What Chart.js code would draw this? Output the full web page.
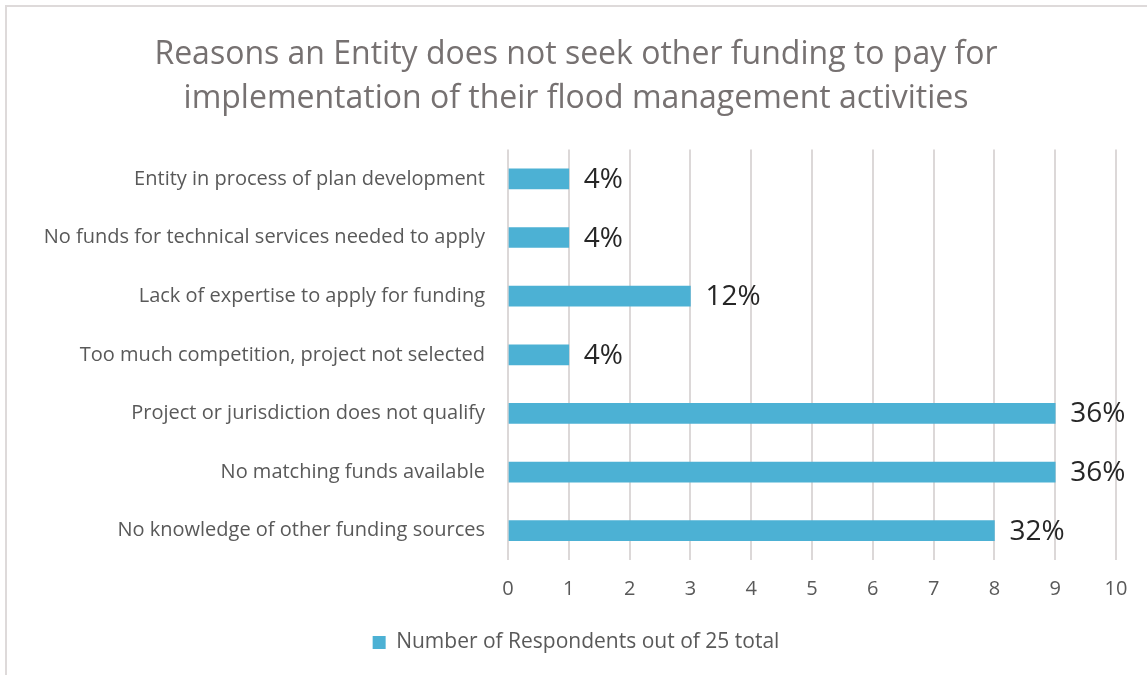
<!DOCTYPE html>
<html>
<head>
<meta charset="utf-8">
<script src="https://cdn.jsdelivr.net/npm/chart.js@4.4.1/dist/chart.umd.min.js"></script>
<style>
  html, body { margin: 0; padding: 0; background: #fff; overflow: hidden; }
  #wrap { position: relative; width: 1147px; height: 675px; }
  #frame { position: absolute; left: 5px; top: 5px; width: 1300px; height: 800px;
           border: 2px solid #dedada; box-sizing: border-box; pointer-events: none; }
  canvas { position: absolute; left: 0; top: 0; }
</style>
</head>
<body>
<div id="wrap">
  <canvas id="reasonsChart" width="1147" height="675"></canvas>
  <div id="frame"></div>
</div>
<script>
// survey answers, top row first
var reasons = [
  'Entity in process of plan development',
  'No funds for technical services needed to apply',
  'Lack of expertise to apply for funding',
  'Too much competition, project not selected',
  'Project or jurisdiction does not qualify',
  'No matching funds available',
  'No knowledge of other funding sources'
];
var respondents = [1, 1, 3, 1, 9, 9, 8];
var totalRespondents = 25;
var xTicks = [0, 1, 2, 3, 4, 5, 6, 7, 8, 9, 10];

var fontFamily = '"Open Sans", Lato, sans-serif';
var barColor = '#4cb1d4';

// percentage label to the right of each bar
const percentLabels = {
  id: 'percentLabels',
  afterDatasetsDraw(chart) {
    const c = chart.ctx;
    const meta = chart.getDatasetMeta(0);
    c.save();
    c.font = '28px ' + fontFamily;
    c.fillStyle = '#262626';
    c.textAlign = 'left';
    c.textBaseline = 'middle';
    meta.data.forEach((bar, i) => {
      var pct = Math.round(respondents[i] / totalRespondents * 100) + '%';
      c.fillText(pct, bar.x + 15, bar.y + 1);
    });
    c.restore();
  }
};

const ctx = document.getElementById('reasonsChart').getContext('2d');
const reasonsChart = new Chart(ctx, {
  type: 'bar',
  data: {
    labels: reasons,
    datasets: [{
      label: 'Number of Respondents out of 25 total',
      data: respondents,
      backgroundColor: barColor,
      borderWidth: 0,
      barThickness: 20
    }]
  },
  plugins: [percentLabels],
  options: {
    indexAxis: 'y',
    responsive: false,
    animation: false,
    layout: { padding: { left: 36, right: 31, top: 5, bottom: 12 } },
    plugins: {
      title: {
        display: true,
        text: ['Reasons an Entity does not seek other funding to pay for',
               'implementation of their flood management activities'],
        color: '#767171',
        font: { family: fontFamily, size: 32, weight: 'normal', lineHeight: 1.4 },
        padding: { top: 27, bottom: 28 }
      },
      legend: {
        position: 'bottom',
        labels: {
          color: '#595959',
          font: { family: fontFamily, size: 21 },
          boxWidth: 13,
          boxHeight: 13,
          padding: 10
        }
      },
      tooltip: { enabled: false }
    },
    scales: {
      x: {
        min: 0,
        max: 10,
        afterBuildTicks(scale) {
          scale.ticks = xTicks.map(v => ({ value: v }));
        },
        afterFit(scale) { scale.height = 62; },
        grid: { color: '#dcd8d8', lineWidth: 2, drawTicks: false },
        border: { display: false },
        ticks: {
          color: '#595959',
          font: { family: fontFamily, size: 20 },
          padding: 17
        }
      },
      y: {
        // y axis ends where the zero gridline sits
        afterFit(scale) { scale.width = 472; },
        grid: { display: false },
        border: { display: false },
        ticks: {
          color: '#595959',
          font: { family: fontFamily, size: 20 },
          padding: 15
        }
      }
    }
  }
});
</script>
</body>
</html>
